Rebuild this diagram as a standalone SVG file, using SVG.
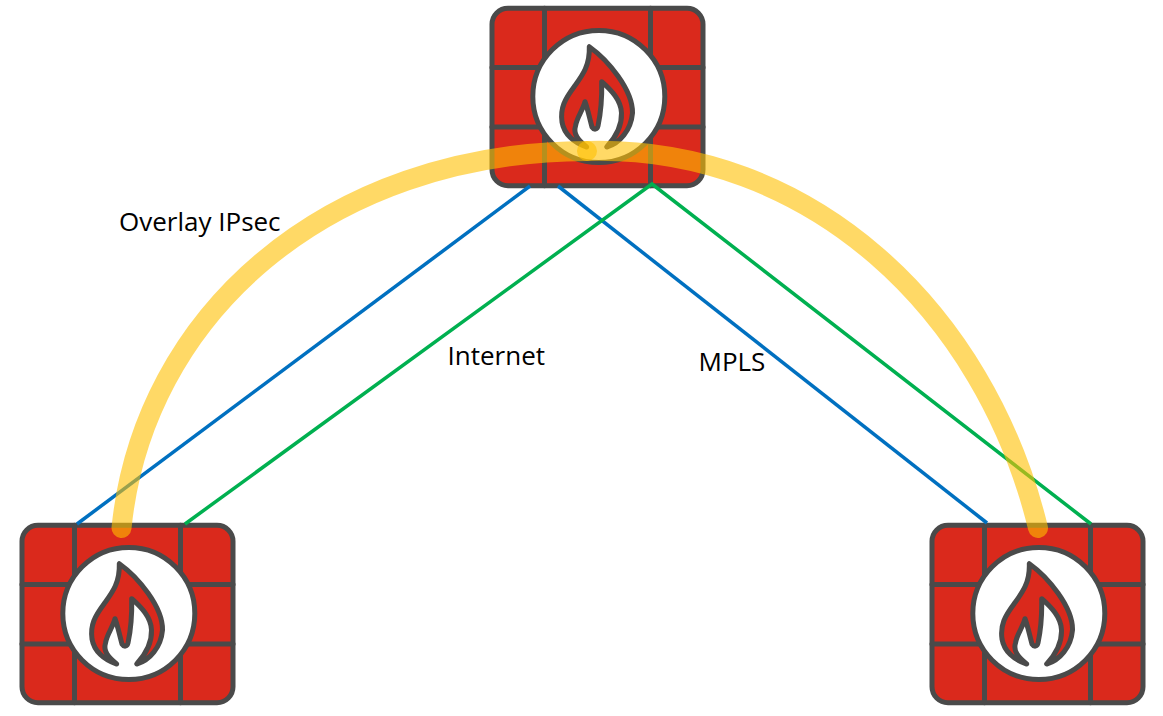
<svg xmlns="http://www.w3.org/2000/svg" width="1163" height="716" viewBox="0 0 1163 716">
<style>
.d{stroke:#4a4a4a;stroke-width:5;stroke-linecap:round;stroke-linejoin:round}
.w{fill:#da291c}
.f{fill:none}
.b{fill:none;stroke:#0070c0;stroke-width:3.500}
.g{fill:none;stroke:#00b050;stroke-width:3.500}
.o{fill:none;stroke:#ffc000;stroke-width:20;stroke-linecap:round;opacity:.6}
text{font-family:"Open Sans","Noto Sans",sans-serif;font-size:26px;fill:#000}
</style>
<defs>
<g id="fw">
<rect class="d w" x="492" y="8.300" width="211" height="177.400" rx="16"/>
<path class="d f" d="M544.500 8.300V185.700M650.500 8.300V185.700M492 67.500H703M492 127H703"/>
<circle class="d" cx="598.800" cy="96.500" r="66" fill="#fff"/>
<path class="d w" d="M589.300 46.700C590 66 582 76 574 87C565 99 560 108 562 122C564 134 574 143 586.700 147C578 140 573 134 575.500 126C577 117 583 110 585 101.700C588 110 590 120 592 127C594 130 597 130 598 126C601 112 602 96 601.700 81.700C611 90 621 100 621.500 113C622 127 615 138 606.700 147C620 143 631 130 632.500 113C633 90 608 60 589.300 46.700Z"/>
</g>
</defs>
<g id="firewall-top"><use href="#fw"/></g>
<g id="firewall-left"><use href="#fw" x="-470" y="517"/></g>
<g id="firewall-right"><use href="#fw" x="440" y="517"/></g>
<g id="connectors">
<path class="b" d="M530 186L77 524"/>
<path class="b" d="M558 186L987 523"/>
<path class="g" d="M185 524L652 184L1091 524"/>
<path class="o" d="M121.500 528C143 316 325 152 587 151"/>
<path class="o" d="M587 151C810 145 985 310 1038 528"/>
</g>
<g id="labels">
<text x="119" y="230.500">Overlay IPsec</text>
<text x="447.500" y="365">Internet</text>
<text x="698.500" y="371">MPLS</text>
</g>
</svg>
